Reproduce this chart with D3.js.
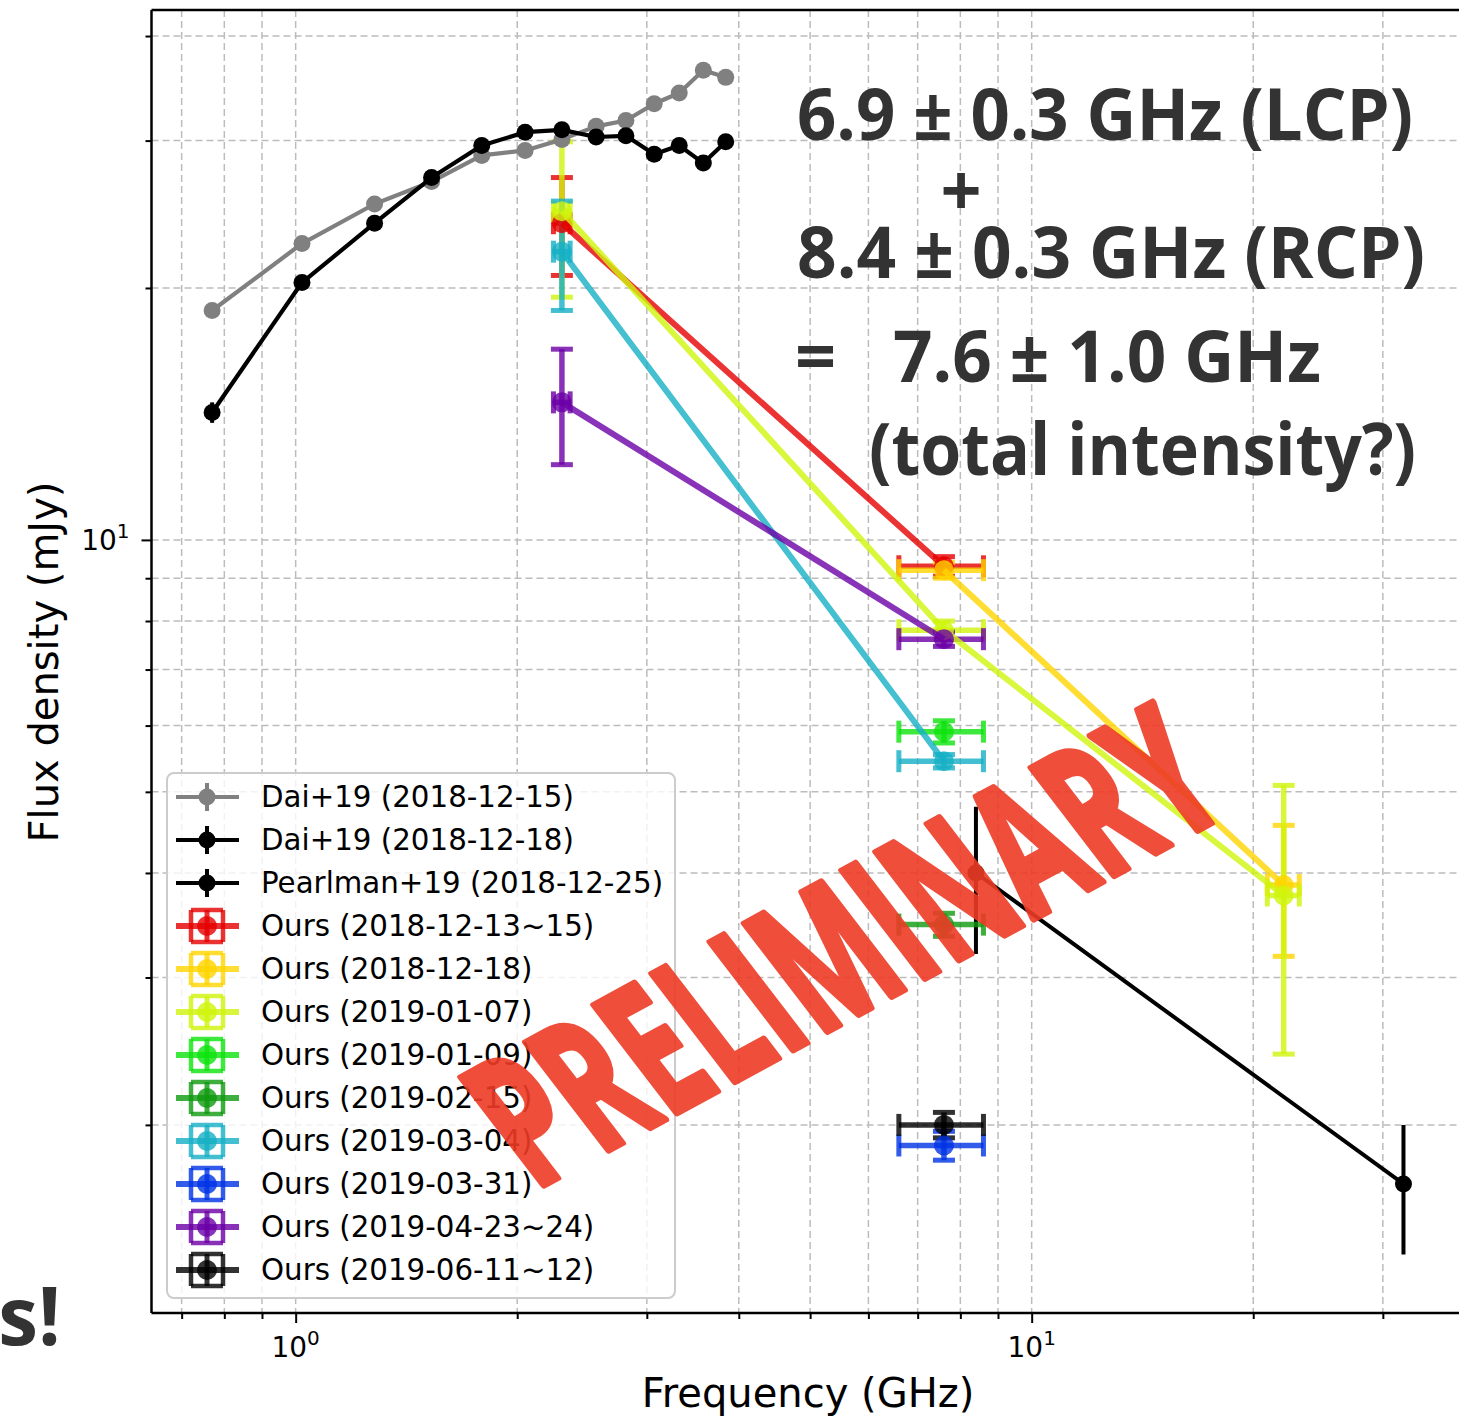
<!DOCTYPE html>
<html>
<head>
<meta charset="utf-8">
<script src="https://cdn.jsdelivr.net/npm/d3@7"></script>
<style>
  html, body { margin: 0; padding: 0; background: #ffffff; }
  svg { display: block; }
</style>
</head>
<body>
<svg id="chart" width="1459" height="1417"></svg>
<script>
// ---- Dai+19 VLA sub-band spectra (GHz, mJy) ----
const daiFreq      = [0.77, 1.02, 1.28, 1.53, 1.79, 2.05, 2.30, 2.56, 2.81, 3.07, 3.32, 3.58, 3.84];
const dai1215Flux  = [18.8, 22.6, 25.2, 26.8, 28.8, 29.2, 30.1, 31.2, 31.7, 33.2, 34.2, 36.4, 35.7];
const dai1215Err   = [0.3, 0.3, 0.3, 0.3, 0.3, 0.3, 0.3, 0.3, 0.3, 0.3, 0.3, 0.3, 0.3];
const dai1218Flux  = [14.2, 20.3, 23.9, 27.1, 29.6, 30.7, 30.9, 30.3, 30.4, 28.9, 29.6, 28.2, 29.9];
const dai1218Err   = [0.4, 0.3, 0.3, 0.3, 0.3, 0.3, 0.3, 0.3, 0.3, 0.3, 0.3, 0.3, 0.3];

// ---- Pearlman+19 ----
const pearlmanFreq = [8.4, 32.0];
const pearlmanFlux = [4.0, 1.7];
const pearlmanErr  = [0.8, 0.3];

// ---- Our epochs ----
const oursEpochs   = ["2018-12-13~15", "2018-12-18", "2019-01-07", "2019-01-09", "2019-02-15",
                      "2019-03-04", "2019-03-31", "2019-04-23~24", "2019-06-11~12"];
const oursFreq     = [[2.3, 7.6], [7.6, 22.0], [2.3, 7.6, 22.0], [7.6], [7.6], [2.3, 7.6], [7.6], [2.3, 7.6], [7.6]];
const oursFreqErr  = [[0.06, 1.0], [1.0, 1.1], [0.06, 1.0, 1.1], [1.0], [1.0], [0.06, 1.0], [1.0], [0.06, 1.0], [1.0]];
const oursFlux     = [[23.9, 9.3], [9.2, 3.87], [24.7, 7.8, 3.76], [5.9], [3.47], [22.1, 5.44], [1.89], [14.6, 7.61], [2.0]];
const oursFluxErr  = [[3.2, 0.25], [0.2, 0.69], [5.2, 0.2, 1.33], [0.18], [0.11], [3.3, 0.1], [0.075], [2.3, 0.15], [0.07]];

// ---- Axis ticks ----
const xMajorTicks = [1, 10];
const xMinorTicks = [0.7, 0.8, 0.9, 2, 3, 4, 5, 6, 7, 8, 9, 20, 30];
const yMajorTicks = [10];
const yMinorTicks = [2, 3, 4, 5, 6, 7, 8, 9, 20, 30, 40];
const xTickExp = ["0", "1"];
const yTickExp = ["1"];

// ---- Styling ----
const oursColors = ["#e60000", "#ffd500", "#d0f50c", "#0ee40e", "#0f9a0f",
                    "#16b0c6", "#0033e6", "#6c00a6", "#000000"];
const daiGray = "#808080";

const plotL = 151.5, plotR = 1463, plotT = 10, plotB = 1313;

const x = d3.scaleLog().domain([0.637, 38.55]).range([plotL, plotR]);
const y = d3.scaleLog().domain([1.192, 42.97]).range([plotB, plotT]);

const svg = d3.select("#chart");

// grid (major + minor), dashed
const grid = svg.append("g").attr("class", "grid");
grid.selectAll("line.gx").data(xMajorTicks.concat(xMinorTicks)).join("line")
  .attr("class", "gx")
  .attr("x1", d => x(d)).attr("x2", d => x(d))
  .attr("y1", plotT).attr("y2", plotB)
  .attr("stroke", "#bcbcbc").attr("stroke-width", 1.5).attr("stroke-dasharray", "7,4");
grid.selectAll("line.gy").data(yMajorTicks.concat(yMinorTicks)).join("line")
  .attr("class", "gy")
  .attr("y1", d => y(d)).attr("y2", d => y(d))
  .attr("x1", plotL).attr("x2", plotR)
  .attr("stroke", "#bcbcbc").attr("stroke-width", 1.5).attr("stroke-dasharray", "7,4");

const barLayer = svg.append("g").attr("class", "bars");
const lineLayer = svg.append("g").attr("class", "lines");

const lineGen = d3.line().x(d => x(d[0])).y(d => y(d[1]));

// reference spectra: y error bars without caps, line + markers
function drawReference(freq, flux, err, color, lw) {
  const pts = freq.map((f, i) => ({ f, v: flux[i], e: err[i] }));
  barLayer.append("g").selectAll("line").data(pts).join("line")
    .attr("x1", d => x(d.f)).attr("x2", d => x(d.f))
    .attr("y1", d => y(d.v + d.e)).attr("y2", d => y(d.v - d.e))
    .attr("stroke", color).attr("stroke-width", 4);
  const g = lineLayer.append("g");
  g.append("path").datum(pts.map(d => [d.f, d.v]))
    .attr("d", lineGen).attr("fill", "none")
    .attr("stroke", color).attr("stroke-width", lw).attr("stroke-linejoin", "round");
  g.selectAll("circle").data(pts).join("circle")
    .attr("cx", d => x(d.f)).attr("cy", d => y(d.v)).attr("r", 8.5)
    .attr("fill", color);
}

drawReference(daiFreq, dai1215Flux, dai1215Err, daiGray, 4.2);
drawReference(daiFreq, dai1218Flux, dai1218Err, "#000000", 4.2);
drawReference(pearlmanFreq, pearlmanFlux, pearlmanErr, "#000000", 4);

// our epochs: x and y error bars with caps, semi-transparent
const capHalf = 11, alpha = 0.8;
oursEpochs.forEach((ep, k) => {
  const color = oursColors[k];
  const pts = oursFreq[k].map((f, i) => ({
    f, fe: oursFreqErr[k][i], v: oursFlux[k][i], e: oursFluxErr[k][i]
  }));
  const bg = barLayer.append("g").attr("stroke", color);
  pts.forEach(d => {
    const cx = x(d.f), cy = y(d.v);
    const segs = [
      [cx, y(d.v + d.e), cx, y(d.v - d.e), 5.5],
      [x(d.f - d.fe), cy, x(d.f + d.fe), cy, 5.5],
      [cx - capHalf, y(d.v + d.e), cx + capHalf, y(d.v + d.e), 5],
      [cx - capHalf, y(d.v - d.e), cx + capHalf, y(d.v - d.e), 5],
      [x(d.f - d.fe), cy - capHalf, x(d.f - d.fe), cy + capHalf, 5],
      [x(d.f + d.fe), cy - capHalf, x(d.f + d.fe), cy + capHalf, 5]
    ];
    segs.forEach(s => {
      bg.append("line").attr("x1", s[0]).attr("y1", s[1]).attr("x2", s[2]).attr("y2", s[3])
        .attr("stroke-width", s[4]).attr("opacity", alpha);
    });
  });
  const g = lineLayer.append("g");
  if (pts.length > 1) {
    g.append("path").datum(pts.map(d => [d.f, d.v]))
      .attr("d", lineGen).attr("fill", "none")
      .attr("stroke", color).attr("stroke-width", 6).attr("stroke-linejoin", "round")
      .attr("opacity", alpha);
  }
  g.selectAll("circle").data(pts).join("circle")
    .attr("cx", d => x(d.f)).attr("cy", d => y(d.v)).attr("r", 10)
    .attr("fill", color).attr("opacity", alpha);
});

// ---- axes ----
const axes = svg.append("g").attr("class", "axes");
const xMajAxis = d3.axisBottom(x).tickValues(xMajorTicks).tickSize(10).tickFormat("");
const xMinAxis = d3.axisBottom(x).tickValues(xMinorTicks).tickSize(6).tickFormat("");
const yMajAxis = d3.axisLeft(y).tickValues(yMajorTicks).tickSize(10).tickFormat("");
const yMinAxis = d3.axisLeft(y).tickValues(yMinorTicks).tickSize(6).tickFormat("");
[[xMajAxis, `translate(0,${plotB})`], [xMinAxis, `translate(0,${plotB})`],
 [yMajAxis, `translate(${plotL},0)`], [yMinAxis, `translate(${plotL},0)`]].forEach(([ax, tr]) => {
  const g = axes.append("g").attr("transform", tr).call(ax);
  g.select(".domain").remove();
  g.selectAll(".tick line").attr("stroke", "#000").attr("stroke-width", 2);
});

// spines
axes.append("line").attr("x1", plotL).attr("x2", plotR).attr("y1", plotB).attr("y2", plotB)
  .attr("stroke", "#000").attr("stroke-width", 2.5);
axes.append("line").attr("x1", plotL).attr("x2", plotR).attr("y1", plotT).attr("y2", plotT)
  .attr("stroke", "#000").attr("stroke-width", 2.5);
axes.append("line").attr("x1", plotL).attr("x2", plotL).attr("y1", plotT).attr("y2", plotB)
  .attr("stroke", "#000").attr("stroke-width", 2.5);

// tick labels as 10^n
const tickFont = "'DejaVu Sans', sans-serif";
xMajorTicks.forEach((t, i) => {
  const tx = axes.append("text")
    .attr("x", x(t)).attr("y", 1357).attr("text-anchor", "middle")
    .attr("font-family", tickFont).attr("font-size", 28).attr("fill", "#000");
  tx.append("tspan").text("10");
  tx.append("tspan").attr("dy", -12).attr("font-size", 20).text(xTickExp[i]);
});
yMajorTicks.forEach((t, i) => {
  const tx = axes.append("text")
    .attr("x", plotL - 22).attr("y", y(t) + 10).attr("text-anchor", "end")
    .attr("font-family", tickFont).attr("font-size", 28).attr("fill", "#000");
  tx.append("tspan").text("10");
  tx.append("tspan").attr("dy", -12).attr("font-size", 20).text(yTickExp[i]);
});

// axis titles
axes.append("text").attr("x", 808).attr("y", 1407).attr("text-anchor", "middle")
  .attr("font-family", tickFont).attr("font-size", 40).attr("fill", "#000")
  .text("Frequency (GHz)");
axes.append("text").attr("transform", "translate(58,662) rotate(-90)").attr("text-anchor", "middle")
  .attr("font-family", tickFont).attr("font-size", 40).attr("fill", "#000")
  .text("Flux density (mJy)");

// ---- legend ----
const legend = svg.append("g").attr("class", "legend");
legend.append("rect").attr("x", 167).attr("y", 773).attr("width", 508).attr("height", 525)
  .attr("rx", 7).attr("fill", "#ffffff").attr("fill-opacity", 0.8)
  .attr("stroke", "#cccccc").attr("stroke-width", 2);

const legendRows = [
  { label: "Dai+19 (2018-12-15)", color: daiGray, ours: false },
  { label: "Dai+19 (2018-12-18)", color: "#000000", ours: false },
  { label: "Pearlman+19 (2018-12-25)", color: "#000000", ours: false }
].concat(oursEpochs.map((ep, k) => ({ label: `Ours (${ep})`, color: oursColors[k], ours: true })));

legendRows.forEach((r, i) => {
  const cy = 797 + i * 43, cx = 207;
  const g = legend.append("g");
  if (r.ours) {
    g.append("line").attr("x1", cx).attr("x2", cx).attr("y1", cy - 16).attr("y2", cy + 16)
      .attr("stroke", r.color).attr("stroke-width", 5).attr("opacity", alpha);
    [[cx - 16, cy - 16, cx + 16, cy - 16], [cx - 16, cy + 16, cx + 16, cy + 16],
     [cx - 16, cy - 16, cx - 16, cy + 16], [cx + 16, cy - 16, cx + 16, cy + 16]].forEach(s => {
      g.append("line").attr("x1", s[0]).attr("y1", s[1]).attr("x2", s[2]).attr("y2", s[3])
        .attr("stroke", r.color).attr("stroke-width", 4.5).attr("opacity", alpha);
    });
    g.append("line").attr("x1", 176).attr("x2", 239).attr("y1", cy).attr("y2", cy)
      .attr("stroke", r.color).attr("stroke-width", 6).attr("opacity", alpha);
    g.append("circle").attr("cx", cx).attr("cy", cy).attr("r", 10)
      .attr("fill", r.color).attr("opacity", alpha);
  } else {
    g.append("line").attr("x1", cx).attr("x2", cx).attr("y1", cy - 14).attr("y2", cy + 14)
      .attr("stroke", r.color).attr("stroke-width", 4);
    g.append("line").attr("x1", 176).attr("x2", 239).attr("y1", cy).attr("y2", cy)
      .attr("stroke", r.color).attr("stroke-width", 4.2);
    g.append("circle").attr("cx", cx).attr("cy", cy).attr("r", 8.5).attr("fill", r.color);
  }
  g.append("text").attr("x", 261).attr("y", cy + 10)
    .attr("font-family", tickFont).attr("font-size", 29.3).attr("fill", "#000")
    .text(r.label);
});

// ---- watermark ----
svg.append("text")
  .attr("transform", "translate(885,1000) rotate(-28.5) skewX(9)")
  .attr("text-anchor", "middle")
  .attr("font-family", "'Open Sans', sans-serif").attr("font-weight", 700)
  .attr("font-size", 188)
  .attr("textLength", 800).attr("lengthAdjust", "spacingAndGlyphs")
  .attr("fill", "#ee3b26").attr("stroke", "#ee3b26").attr("stroke-width", 7)
  .attr("stroke-linejoin", "round").attr("opacity", 0.9)
  .text("PRELIMINARY");

// ---- annotation ----
const note = svg.append("g").attr("font-family", "'Open Sans', sans-serif")
  .attr("font-weight", 700).attr("fill", "#333333").attr("font-size", 72);
note.append("text").attr("x", 797).attr("y", 140)
  .attr("textLength", 616).attr("lengthAdjust", "spacingAndGlyphs")
  .text("6.9 ± 0.3 GHz (LCP)");
note.append("text").attr("x", 961).attr("y", 216).attr("text-anchor", "middle").text("+");
note.append("text").attr("x", 797).attr("y", 278)
  .attr("textLength", 628).attr("lengthAdjust", "spacingAndGlyphs")
  .text("8.4 ± 0.3 GHz (RCP)");
note.append("text").attr("x", 795).attr("y", 382).text("=");
note.append("text").attr("x", 893).attr("y", 382)
  .attr("textLength", 428).attr("lengthAdjust", "spacingAndGlyphs")
  .text("7.6 ± 1.0 GHz");
note.append("text").attr("x", 869).attr("y", 475)
  .attr("textLength", 547).attr("lengthAdjust", "spacingAndGlyphs")
  .text("(total intensity?)");

svg.append("text").attr("x", 61).attr("y", 1345).attr("text-anchor", "end")
  .attr("font-family", "'Open Sans', sans-serif").attr("font-weight", 700)
  .attr("font-size", 80).attr("fill", "#333333")
  .text("s!");
</script>
</body>
</html>
